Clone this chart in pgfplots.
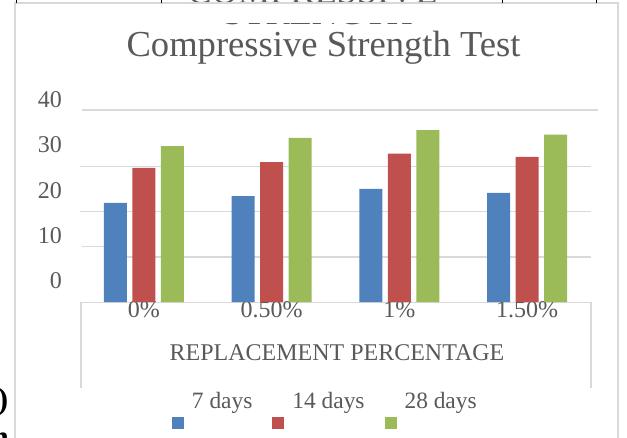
\documentclass[border=0pt]{standalone}
\usepackage{fontspec}
\setmainfont{Liberation Serif}
\usepackage{pgfplots}
\pgfplotsset{compat=1.18}
\definecolor{sblue}{HTML}{4F81BD}
\definecolor{sred}{HTML}{C0504D}
\definecolor{sgreen}{HTML}{9BBB59}
\definecolor{txt}{HTML}{595959}
\definecolor{grd}{HTML}{D9D9D9}
\begin{document}
\begin{tikzpicture}
\begin{scope}[x=1pt,y=-1pt]
\useasboundingbox (0,0) rectangle (627,438);
% header remnants
\node[anchor=base, font=\fontsize{36.3}{40}\selectfont, text=txt, inner sep=0pt] at (318,25) {STRENGTH};
\fill[white] (180,-2) rectangle (460,22.8);
\node[anchor=base, font=\fontsize{36.3}{40}\selectfont, text=txt, inner sep=0pt] at (312.5,3.5) {COMPRESSIVE};
% chart border
\draw[grd, line width=1.2pt] (15,445) -- (15,3) -- (618,3) -- (618,445);
\foreach \xx in {16,161,502,596} {\draw[black, line width=0.9pt] (\xx,-1) -- (\xx,3);}
% title
\node[anchor=base, font=\fontsize{36.6}{40}\selectfont, text=txt, inner sep=0pt] at (323.5,57) {Compressive Strength Test};
% gridlines
\draw[grd, line width=1.3pt] (82,110) -- (598,110);
\draw[grd, line width=1.3pt] (80,166.5) -- (591,166.5);
\draw[grd, line width=1.3pt] (80,211.7) -- (591,211.7);
\draw[grd, line width=1.3pt] (104,257) -- (591,257);
\draw[grd, line width=1.3pt] (82,246.7) -- (104,246.7);
% category axis box
\draw[grd, line width=1.3pt] (81,388) -- (81,302.5) -- (591,302.5) -- (591,388);
% axis title
\node[anchor=base, font=\fontsize{24}{28}\selectfont, text=txt, inner sep=0pt] at (337,361) {REPLACEMENT PERCENTAGE};
% stray characters at left edge
\node[anchor=base east, font=\bfseries\fontsize{31}{34}\selectfont, inner sep=0pt] at (8.5,409.5) {)};
\node[anchor=base east, font=\bfseries\fontsize{31}{34}\selectfont, inner sep=0pt] at (9,448) {h};
\end{scope}
\begin{axis}[
  at={(80pt,-302pt)}, anchor=south west,
  scale only axis, width=511pt, height=181.33pt,
  xmin=-0.5, xmax=3.5, ymin=0, ymax=40,
  axis line style={draw=none}, major tick length=0pt, tick style={draw=none},
  xtick={0,1,2,3}, xticklabels={0\%,0.50\%,1\%,1.50\%},
  ytick={0,10,20,30,40}, yticklabels={0,10,20,30,40},
  ticklabel style={font=\fontsize{24}{28}\selectfont, text=txt, inner sep=0pt},
  yticklabel style={anchor=east, xshift=-18pt, yshift=21pt},
  xticklabel style={anchor=base, yshift=-16pt},
  ybar=5.5pt, bar width=23pt,
  legend columns=3,
  legend style={draw=none, fill=none, inner sep=0pt, outer sep=0pt,
    font=\fontsize{23.4}{27}\selectfont, text=txt,
    at={(axis description cs:0.18,-0.4886)}, anchor=north west,
    cells={anchor=base west, inner sep=0pt},
    /tikz/every odd column/.append style={column sep=6pt},
    /tikz/every even column/.append style={column sep=18pt}},
]
\addplot[fill=sblue, draw=none, legend image code/.code={\fill[sblue] (0pt,-20pt) rectangle (12pt,-8pt);}]
  coordinates {(0,21.84) (1,23.38) (2,24.93) (3,24.05)};
\addplot[fill=sred, draw=none, legend image code/.code={\fill[sred] (0pt,-20pt) rectangle (12pt,-8pt);}]
  coordinates {(0,29.56) (1,30.88) (2,32.72) (3,31.99)};
\addplot[fill=sgreen, draw=none, legend image code/.code={\fill[sgreen] (0pt,-20pt) rectangle (12pt,-8pt);}]
  coordinates {(0,34.41) (1,36.18) (2,37.94) (3,36.91)};
\legend{7 days,14 days,28 days}
\end{axis}
\end{tikzpicture}
\end{document}
